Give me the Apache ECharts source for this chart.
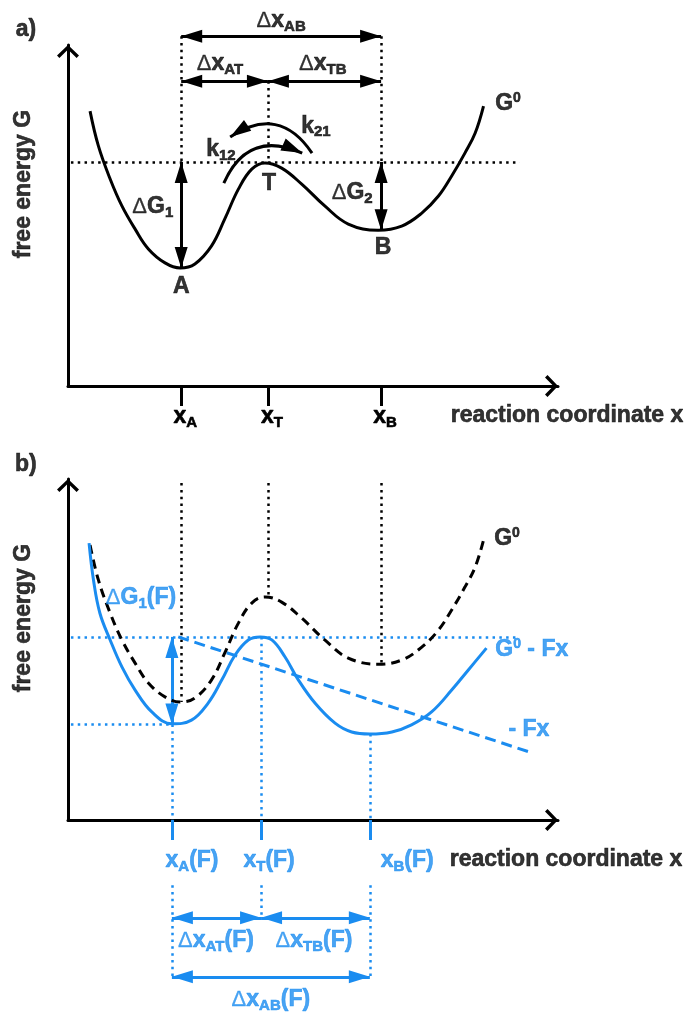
<!DOCTYPE html>
<html>
<head>
<meta charset="utf-8">
<script src="https://cdn.jsdelivr.net/npm/echarts@6/dist/echarts.min.js"></script>
<title>free energy G</title>
<style>
  html, body, #main { width: 100%; height: 100%; margin: 0; background: #fff; }
</style>
</head>
<body>
<div id="main"></div>
<script>
// both panels: reaction coordinate 0..100, free energy 0..100
// unloaded landscape G0
var g0X = [4.5, 6.2, 8.6, 11.0, 13.7, 16.4, 19.8, 22.9, 25.9, 29.3, 32.0, 34.8, 37.5, 40.2, 43.6, 47.7, 52.4, 57.2, 63.3, 68.1, 72.2, 75.6, 78.3, 81.0, 83.1, 84.8];
var g0Y = [80.6, 70.4, 60.7, 52.8, 46.0, 40.2, 36.1, 34.6, 35.8, 41.1, 49.0, 57.8, 63.6, 65.4, 63.9, 59.2, 52.8, 47.5, 45.7, 46.9, 50.7, 55.7, 61.6, 68.3, 74.2, 82.1];
// tilted landscape G0 - Fx
var gfX = [4.3, 5.2, 6.5, 8.6, 11.0, 13.7, 17.1, 21.2, 25.2, 28.6, 31.4, 34.1, 36.8, 39.2, 41.6, 44.3, 47.0, 50.4, 54.5, 57.9, 61.6, 66.1, 70.1, 74.2, 78.3, 81.7, 85.4];
var gfY = [81.2, 70.4, 60.7, 52.8, 44.9, 38.1, 31.7, 28.2, 29.3, 34.3, 41.1, 48.4, 52.8, 53.7, 52.8, 47.8, 41.1, 34.3, 28.4, 25.8, 25.2, 25.8, 27.9, 31.7, 38.1, 44.0, 50.4];
// the -Fx term
var fxX = [22.5, 94.9];
var fxY = [53.7, 19.6];
// states A, T, B without and with force
var stateNames = ['A', 'T', 'B'];
var stateX = [23.1, 40.8, 63.9];
var stateG = [34.6, 65.7, 45.7];
var stateXF = [21.2, 39.4, 61.6];
var stateGF = [28.0, 53.7, 25.2];

var BLUE = '#1a8cf0';
var FONT = '"Liberation Sans", Arial, sans-serif';
var chevron = 'path://M10.9,-1 L11.1,-1 L11,-0.9 Z M11,12 L22,22.5 L19.6,25 L11,16.6 L2.4,25 L0,22.5 Z';
var head = 'path://M6.4,0 L6.6,0 L6.5,0.1 Z M6.5,21 L13,42 L0,42 Z';
var dots = [2.5, 4.3];

var myChart = echarts.init(document.getElementById('main'));

// text is drawn a little heavier, like the original figure
function ink(color, extra) {
  var o = { fontFamily: FONT, color: color, textBorderColor: color, textBorderWidth: 0.6 };
  for (var k in extra) o[k] = extra[k];
  return o;
}

function rich(color) {
  return {
    s: ink(color, { fontWeight: 'bold', fontSize: 15, padding: [12, 0, 0, 0] }),
    p: ink(color, { fontWeight: 'bold', fontSize: 14, padding: [0, 0, 11, 0] }),
    dl: ink(color, { fontWeight: 'normal', fontSize: 22, textBorderWidth: 0.3 })
  };
}

function note(x, y, t, extra) {
  var d = { value: [x, y], t: t };
  if (extra) d.label = extra;
  return d;
}

function notes(idx, color, list) {
  return {
    type: 'scatter', xAxisIndex: idx, yAxisIndex: idx, clip: false, silent: true,
    symbolSize: 1, itemStyle: { color: 'rgba(0,0,0,0)' }, z: 10,
    label: ink(color, {
      show: true, position: 'inside', fontWeight: 'bold', fontSize: 23, lineHeight: 30,
      rich: rich(color),
      formatter: function (p) { return p.data.t; }
    }),
    data: list
  };
}

function segs(idx, list, color, width, type, arrows) {
  return {
    type: 'lines', coordinateSystem: 'cartesian2d', xAxisIndex: idx, yAxisIndex: idx,
    clip: false, silent: true, polyline: false,
    symbol: arrows || ['none', 'none'], symbolSize: [[13, 42], [13, 42]],
    lineStyle: { color: color, width: width, type: type, opacity: 1 },
    data: list.map(function (s) { return s.coords ? s : { coords: s }; })
  };
}

function curve(idx, xs, ys, color, type) {
  return {
    type: 'line', xAxisIndex: idx, yAxisIndex: idx, clip: false, silent: true,
    smooth: 0.4, showSymbol: false, symbol: 'none',
    lineStyle: { color: color, width: 3, type: type },
    data: xs.map(function (x, i) { return [x, ys[i]]; })
  };
}

function xAxis(idx, tickColor, ticks, withLabels) {
  return {
    gridIndex: idx, type: 'value', min: 0, max: 100, splitLine: { show: false },
    axisLine: { show: true, onZero: false, symbol: ['none', chevron], symbolSize: [22, 26],
      lineStyle: { color: '#000', width: 3 } },
    axisTick: { show: true, customValues: ticks, inside: false, length: 20,
      lineStyle: { color: tickColor, width: 3 } },
    axisLabel: withLabels ? ink('#000', {
      show: true, customValues: ticks, margin: 16, fontWeight: 'bold', fontSize: 23,
      lineHeight: 30, padding: [0, 0, 0, 8], rich: rich('#000'),
      formatter: function (v) { return 'x{s|' + stateNames[ticks.indexOf(v)] + '}'; }
    }) : { show: false }
  };
}

function yAxis(idx) {
  return {
    gridIndex: idx, type: 'value', min: 0, max: 100, splitLine: { show: false },
    axisLine: { show: true, onZero: false, symbol: ['none', chevron], symbolSize: [22, 26],
      lineStyle: { color: '#000', width: 3 } },
    axisTick: { show: false }, axisLabel: { show: false }
  };
}

var topG = stateG[1];
var series = [
  // a) unloaded landscape
  segs(0, [
    [[0.6, topG], [92.2, topG]],
    [[stateX[0], 102.6], [stateX[0], topG]],
    [[stateX[1], 89.4], [stateX[1], topG]],
    [[stateX[2], 102.6], [stateX[2], topG]]
  ], '#000', 2.5, dots),
  curve(0, g0X, g0Y, '#000', 'solid'),
  segs(0, [
    [[stateX[0], 102.6], [stateX[2], 102.6]],
    [[stateX[0], 89.4], [stateX[1], 89.4]],
    [[stateX[1], 89.4], [stateX[2], 89.4]],
    [[stateX[0], topG], [stateX[0], stateG[0]]],
    [[stateX[2], topG], [stateX[2], stateG[2]]]
  ], '#000', 3, 'solid', [head, head]),
  segs(0, [
    { coords: [[31.8, 59.5], [47.8, 68.3]], lineStyle: { curveness: 0.5 } },
    { coords: [[49.8, 68.3], [33.1, 73.0]], lineStyle: { curveness: -0.5 } }
  ], '#000', 3, 'solid', ['none', head]),
  notes(0, '#000', [
    note(43.5, 107.0, '{dl|Δ}x{s|AB}'),
    note(31.0, 94.4, '{dl|Δ}x{s|AT}'),
    note(52.0, 94.4, '{dl|Δ}x{s|TB}'),
    note(31.2, 69.2, 'k{s|12}'),
    note(50.6, 76.2, 'k{s|21}'),
    note(stateX[1] + 0.2, stateG[1] - 6.5, 'T'),
    note(stateX[0], stateG[0] - 5.6, 'A'),
    note(stateX[2] + 0.4, stateG[2] - 5.2, 'B'),
    note(17.3, 52.5, '{dl|Δ}G{s|1}'),
    note(58.0, 56.6, '{dl|Δ}G{s|2}'),
    note(89.8, 82.7, 'G{p|0}'),
    note(-8.6, 104.4, 'a)'),
    note(-9.0, 59.2, 'free energy G', { rotate: 90 }),
    note(78.0, -8.8, 'reaction coordinate x', { position: 'right', distance: 0 })
  ]),

  // b) landscape tilted by the force
  segs(1, stateX.map(function (x, i) { return [[x, 98.8], [x, stateG[i]]]; }), '#000', 2.5, dots),
  segs(1, [
    [[0.6, stateGF[1]], [92.2, stateGF[1]]],
    [[0.6, stateGF[0]], [stateXF[0], stateGF[0]]],
    [[stateXF[0], stateGF[0]], [stateXF[0], 0]],
    [[stateXF[1], stateGF[1]], [stateXF[1], 0]],
    [[stateXF[2], stateGF[2]], [stateXF[2], 0]],
    [[stateXF[0], -19.1], [stateXF[0], -46.0]],
    [[stateXF[1], -19.1], [stateXF[1], -28.7]],
    [[stateXF[2], -19.1], [stateXF[2], -46.0]]
  ], BLUE, 2.5, dots),
  curve(1, g0X, g0Y, '#000', [9, 6]),
  segs(1, [[[fxX[0], fxY[0]], [fxX[1], fxY[1]]]], BLUE, 3, [11, 6]),
  curve(1, gfX, gfY, BLUE, 'solid'),
  segs(1, [
    [[stateXF[0], stateGF[1]], [stateXF[0], stateGF[0]]],
    [[stateXF[0], -28.7], [stateXF[1], -28.7]],
    [[stateXF[1], -28.7], [stateXF[2], -28.7]],
    [[stateXF[0], -46.0], [stateXF[2], -46.0]]
  ], BLUE, 3, 'solid', [head, head]),
  notes(1, '#000', [
    note(-8.6, 104.1, 'b)'),
    note(-9.0, 59.2, 'free energy G', { rotate: 90 }),
    note(89.6, 82.4, 'G{p|0}'),
    note(77.8, -11.7, 'reaction coordinate x', { position: 'right', distance: 0 })
  ]),
  notes(1, BLUE, [
    note(14.9, 65.1, '{dl|Δ}G{s|1}(F)'),
    note(87.1, 49.9, 'G{p|0} - Fx', { position: 'right', distance: 0 }),
    note(89.8, 26.4, '- Fx', { position: 'right', distance: 0 }),
    note(19.8, -12.0, 'x{s|A}(F)', { position: 'right', distance: 0 }),
    note(35.7, -12.0, 'x{s|T}(F)', { position: 'right', distance: 0 }),
    note(63.7, -12.0, 'x{s|B}(F)', { position: 'right', distance: 0 }),
    note(30.2, -35.5, '{dl|Δ}x{s|AT}(F)'),
    note(50.2, -35.5, '{dl|Δ}x{s|TB}(F)'),
    note(41.4, -52.8, '{dl|Δ}x{s|AB}(F)')
  ])
];

var option = {
  animation: false,
  backgroundColor: '#fff',
  grid: [
    { left: 68, top: 45, width: 490, height: 341, containLabel: false, outerBoundsMode: 'none' },
    { left: 68, top: 479, width: 490, height: 341, containLabel: false, outerBoundsMode: 'none' }
  ],
  xAxis: [xAxis(0, '#000', stateX, true), xAxis(1, BLUE, stateXF, false)],
  yAxis: [yAxis(0), yAxis(1)],
  series: series
};

myChart.setOption(option);

window.onresize = function () {
  myChart.resize();
};
</script>
</body>
</html>
